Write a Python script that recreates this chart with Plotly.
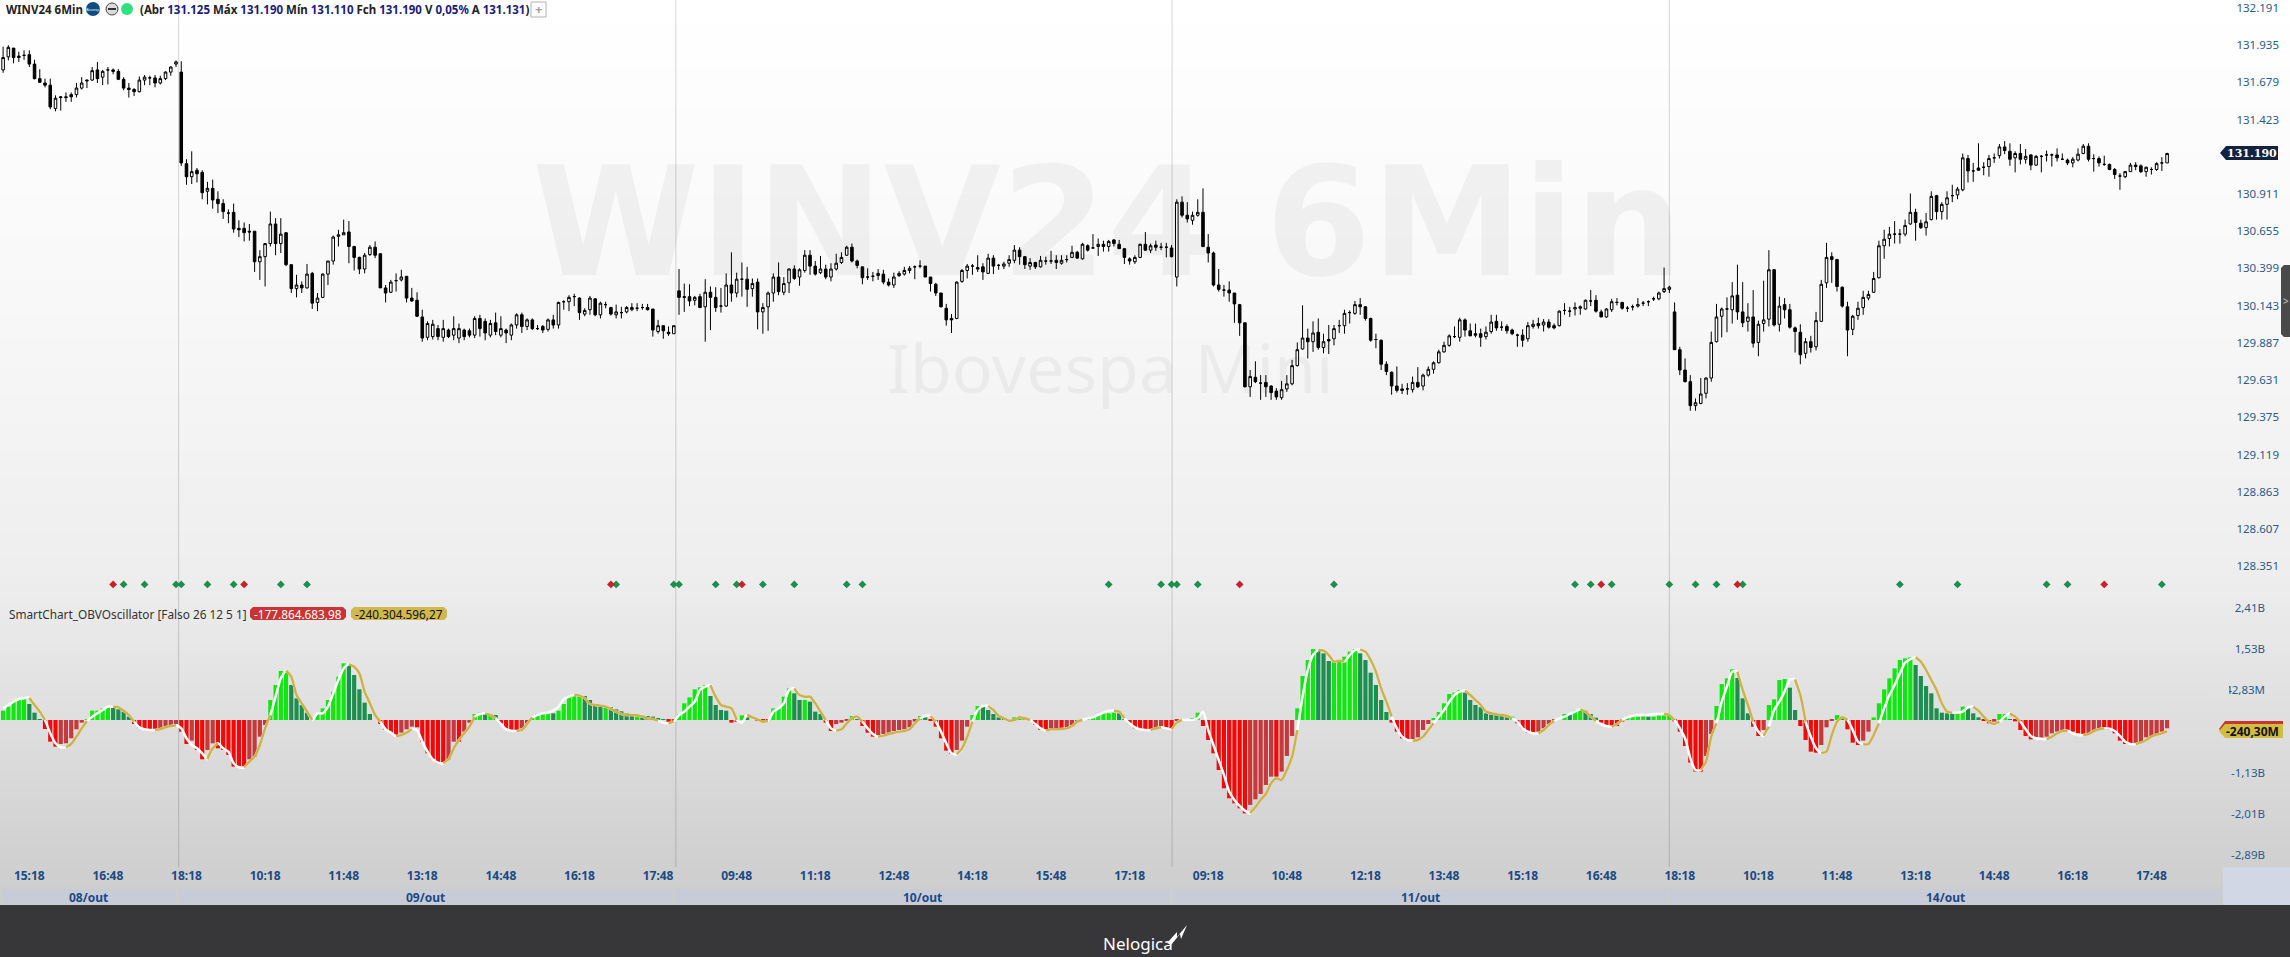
#!/usr/bin/env python3
import plotly.graph_objects as go

# Candles, one value per 6 minute bar
opens = [
    131765,131855,131915,131860,131865,131870,131805,131705,131675,131660,131500,131580,131580,131595,131595,131640,131695,131695,131765,131715,
    131765,131765,131755,131700,131640,131630,131615,131695,131710,131710,131675,131705,131750,131805,131750,
    131120,131030,131075,131060,130930,130950,130875,130845,130780,130785,130675,130675,130655,130655,130445,130480,130570,130705,130570,130645,
    130425,130260,130285,130265,130365,130165,130200,130360,130450,130620,130630,130650,130550,130475,130395,130495,130545,130500,130265,130235,
    130315,130320,130345,130195,130180,130065,129925,129930,129985,129925,129975,129940,129920,129975,129970,129940,130055,130035,129940,130025,
    129940,129975,129940,130010,130080,130000,130045,129985,130000,129980,130045,130010,130170,130170,130205,130195,130085,130115,130190,130080,
    130150,130130,130080,130095,130100,130115,130125,130130,130130,130120,129965,130005,129960,129950,
    130245,130205,130205,130180,130205,130135,130235,130200,130140,130140,130285,130230,130325,130325,130260,130305,130100,130135,130230,130340,
    130235,130300,130395,130340,130385,130490,130415,130370,130395,130340,130395,130440,130490,130545,130450,130410,130340,130345,130350,130360,
    130305,130285,130350,130360,130385,130410,130415,130415,130340,130290,130230,130125,130055,130055,130310,130385,130415,130405,130410,130365,
    130470,130420,130415,130435,130455,130525,130480,130415,130440,130410,130450,130450,130455,130435,130460,130475,130510,130465,130555,130540,
    130550,130565,130550,130595,130565,130535,130465,130445,130475,130565,130525,130560,130545,130545,130540,
    130340,130855,130765,130730,130765,130785,130545,130505,130285,130250,130250,130230,130150,130025,129585,129650,129610,129615,129590,129555,
    129510,129570,129605,129730,129845,129920,129895,129960,129855,129910,129915,130005,130005,
    130095,130090,130150,130135,130055,129910,129905,129740,129685,129590,129570,129570,129565,129615,129590,129665,129705,129750,129825,129870,
    129930,129925,130045,129970,129950,129950,129930,129965,130035,129995,130000,129975,129940,129940,129915,130000,130020,130010,130030,130005,
    130005,130110,130105,130120,130125,130120,130175,130180,130100,130065,130115,130165,130165,130125,130135,130140,130160,130170,130190,130190,
    130240,130255,
    130100,129840,129700,129620,129455,129470,129540,129645,129895,130070,130120,130115,130215,130100,130035,130065,129890,130020,130050,130390,
    130015,130150,130115,129990,129960,129815,129895,129860,130035,130300,130480,130460,130270,130135,129980,130075,130130,130195,130235,130335,
    130555,130605,130635,130635,130635,130705,130785,130710,130680,130735,130900,130790,130840,130900,130905,130940,131155,131070,131090,131095,
    131100,131160,131175,131235,131205,131160,131190,131150,131180,131110,131170,131180,131180,131180,131150,131145,131125,131145,131190,131240,
    131155,131155,131115,131115,131080,131035,131030,131065,131110,131105,131065,131080,131080,131125,131125,
]
highs = [
    131925,131935,131915,131890,131900,131900,131835,131770,131705,131705,131590,131585,131610,131610,131675,131715,131700,131785,131820,131765,
    131785,131775,131770,131715,131675,131640,131720,131730,131725,131730,131725,131755,131790,131830,131825,
    131150,131205,131090,131075,130995,131010,130930,130875,130805,130845,130730,130715,130705,130655,130525,130570,130790,130745,130745,130645,
    130425,130355,130310,130430,130375,130230,130365,130450,130625,130665,130735,130725,130555,130480,130505,130560,130585,130505,130285,130320,
    130365,130390,130345,130265,130235,130115,130035,130045,130010,130045,129985,130070,130020,129985,129985,130070,130080,130055,130045,130095,
    130070,129985,130020,130090,130095,130055,130055,130010,130010,130055,130080,130170,130180,130215,130225,130200,130125,130210,130195,130170,
    130170,130135,130150,130135,130140,130160,130160,130155,130155,130120,130045,130005,130000,130005,
    130395,130295,130290,130210,130225,130325,130275,130270,130265,130365,130510,130370,130440,130410,130330,130330,130160,130240,130365,130440,
    130340,130400,130420,130400,130525,130525,130450,130485,130425,130435,130500,130510,130555,130570,130460,130410,130400,130375,130395,130390,
    130330,130370,130380,130410,130415,130420,130455,130415,130340,130300,130230,130155,130085,130310,130395,130430,130430,130490,130435,130500,
    130490,130430,130445,130490,130560,130545,130485,130470,130445,130485,130480,130520,130490,130490,130490,130555,130520,130575,130565,130635,
    130605,130590,130595,130600,130595,130540,130475,130490,130570,130650,130570,130590,130575,130575,130560,
    130875,130895,130855,130790,130875,130950,130635,130515,130395,130285,130310,130230,130155,130025,129700,129760,129665,129665,129595,129575,
    129625,129665,129770,129890,130145,129985,130035,130055,129950,130010,130010,130045,130115,
    130110,130175,130195,130140,130060,129950,129910,129760,129690,129725,129605,129610,129655,129720,129675,129725,129760,129840,129895,129945,
    130000,130060,130055,130020,130020,129985,130000,130080,130080,130035,130015,129985,129950,129980,130030,130045,130060,130050,130050,130020,
    130110,130160,130135,130165,130145,130185,130250,130215,130115,130125,130190,130195,130170,130140,130150,130195,130175,130180,130205,130240,
    130405,130280,
    130165,129860,129780,129665,129505,129645,129650,129965,130155,130130,130200,130305,130425,130305,130160,130250,130040,130315,130525,130395,
    130205,130195,130155,130000,130015,129920,129935,130100,130320,130575,130510,130465,130275,130170,130080,130170,130245,130245,130375,130590,
    130665,130685,130725,130670,130735,130915,130810,130735,130780,130930,130905,130855,130930,130975,130960,131190,131180,131125,131260,131130,
    131180,131190,131255,131275,131260,131205,131255,131220,131185,131180,131180,131210,131190,131225,131190,131155,131165,131225,131255,131260,
    131185,131170,131175,131120,131090,131055,131070,131125,131130,131115,131100,131095,131130,131165,131195,
]
lows = [
    131745,131830,131810,131820,131835,131785,131700,131675,131645,131495,131480,131485,131545,131545,131575,131630,131640,131690,131675,131660,
    131665,131735,131695,131625,131575,131585,131610,131660,131660,131645,131665,131695,131725,131785,131105,
    130975,130980,130990,130875,130840,130810,130780,130740,130710,130645,130615,130585,130590,130375,130320,130275,130550,130490,130505,130415,
    130230,130200,130230,130260,130120,130105,130195,130285,130425,130550,130630,130435,130385,130360,130365,130485,130470,130265,130165,130230,
    130240,130310,130165,130170,130065,129895,129905,129910,129905,129895,129920,129905,129885,129905,129925,129920,129930,129905,129925,129940,
    129925,129885,129905,129985,129955,129975,129975,129975,129955,129965,129985,129985,130115,130105,130140,130045,130070,130080,130070,130055,
    130125,130075,130055,130055,130090,130105,130105,130115,130110,129930,129950,129915,129935,129950,
    130080,130100,130140,130145,130125,129895,129975,130100,130095,130135,130170,130200,130205,130135,130205,129980,129950,129970,130170,130215,
    130215,130230,130320,130280,130370,130355,130350,130360,130325,130310,130385,130430,130485,130440,130400,130290,130320,130310,130320,130290,
    130275,130265,130340,130350,130365,130325,130400,130340,130240,130210,130130,130005,129955,130050,130300,130330,130355,130375,130320,130360,
    130360,130390,130395,130410,130435,130425,130395,130390,130395,130405,130425,130430,130395,130425,130440,130470,130465,130460,130515,130535,
    130485,130515,130515,130550,130535,130430,130425,130430,130470,130520,130505,130520,130525,130475,130475,
    130275,130750,130715,130700,130755,130545,130440,130275,130240,130205,130170,130025,129935,129580,129515,129610,129495,129515,129495,129495,
    129495,129550,129595,129725,129840,129780,129825,129840,129815,129810,129870,129955,129950,
    130020,130080,130080,130040,129895,129850,129700,129665,129530,129545,129535,129530,129545,129575,129560,129655,129675,129745,129820,129860,
    129920,129895,129930,129935,129925,129860,129910,129950,129970,129970,129950,129940,129860,129860,129895,129985,129985,129965,129985,129980,
    130000,130080,130065,130075,130080,130115,130140,130095,130065,130060,130100,130145,130115,130100,130110,130130,130140,130140,130175,130180,
    130230,130230,
    129840,129665,129615,129420,129420,129465,129505,129620,129890,129925,129960,130020,130045,129995,129965,129855,129795,129965,130000,130000,
    129965,130055,129985,129820,129740,129780,129820,129835,130030,130265,130300,130240,130130,129795,129940,130045,130080,130180,130230,130330,
    130465,130550,130570,130570,130620,130700,130590,130670,130625,130730,130735,130735,130735,130855,130875,130930,130990,130995,131070,131040,
    131030,131125,131155,131185,131105,131060,131115,131120,131075,131105,131060,131135,131100,131135,131145,131110,131095,131135,131185,131135,
    131065,131100,131105,131075,131015,130940,131020,131065,131075,131055,131030,131045,131070,131070,131125,
]
closes = [
    131850,131920,131850,131850,131865,131805,131705,131680,131660,131510,131570,131575,131575,131580,131640,131675,131690,131760,131705,131755,
    131765,131755,131700,131640,131630,131615,131695,131715,131710,131675,131705,131750,131785,131820,131125,
    131030,131065,131050,130920,130950,130870,130845,130790,130780,130670,130665,130645,130650,130445,130480,130570,130705,130570,130635,130425,
    130260,130285,130265,130360,130160,130195,130360,130450,130615,130630,130645,130550,130475,130395,130490,130545,130490,130265,130230,130305,
    130315,130340,130195,130175,130070,129920,130020,130015,129930,129985,129930,129985,129985,129930,129940,130055,129985,129955,130020,129965,
    129985,129955,130010,130080,130000,130045,129985,129985,129975,130045,130010,130165,130170,130200,130205,130095,130110,130195,130080,130160,
    130150,130085,130100,130095,130130,130130,130125,130130,130115,129975,130005,129970,129950,130005,
    130200,130200,130175,130200,130130,130235,130200,130130,130140,130285,130230,130325,130325,130255,130295,130100,130130,130230,130340,130240,
    130295,130395,130330,130390,130490,130415,130360,130395,130340,130395,130435,130475,130545,130450,130420,130335,130340,130345,130365,130305,
    130285,130340,130365,130385,130400,130410,130415,130340,130295,130230,130135,130045,130045,130305,130385,130415,130415,130395,130375,130470,
    130415,130420,130430,130460,130525,130480,130425,130440,130410,130455,130450,130450,130440,130455,130460,130510,130470,130565,130525,130540,
    130565,130550,130585,130570,130535,130475,130450,130475,130565,130525,130555,130545,130545,130545,130480,
    130855,130765,130740,130765,130785,130550,130505,130285,130255,130250,130230,130155,130025,129585,129655,129620,129610,129585,129545,129515,
    129565,129605,129730,129840,129920,129895,129955,129855,129895,129900,129985,130005,130090,
    130095,130150,130135,130055,129905,129910,129740,129690,129590,129560,129560,129570,129615,129585,129665,129705,129750,129825,129870,129935,
    129930,130045,129975,129935,129940,129925,129960,130030,129990,129995,129970,129950,129940,129905,130005,130015,130005,130030,129995,129990,
    130105,130110,130105,130130,130135,130180,130175,130105,130065,130120,130170,130165,130125,130125,130135,130150,130160,130170,130190,130230,
    130260,130270,
    129840,129700,129620,129455,129475,129535,129645,129890,130065,130120,130120,130210,130100,130025,130065,129885,130015,130045,130390,130010,
    130140,130115,129995,129965,129805,129895,129855,130040,130290,130475,130460,130275,130140,129975,130070,130125,130200,130220,130330,130555,
    130600,130635,130635,130635,130695,130785,130715,130680,130720,130895,130790,130840,130885,130900,130945,131160,131070,131070,131075,131095,
    131155,131160,131235,131210,131150,131190,131150,131170,131110,131170,131170,131180,131180,131160,131150,131125,131150,131185,131240,131150,
    131155,131125,131115,131080,131045,131035,131065,131110,131100,131065,131095,131080,131120,131125,131190,
]

# OBV oscillator histogram and its signal line, in millions
osc_bars = [
    200,286,393,443,443,343,157,14,-193,-465,-572,-515,-500,-393,-200,-57,14,200,200,250,300,272,229,179,72,-86,-157,-200,-200,-200,
    -179,-143,-107,-86,-250,-515,-443,-643,-844,-643,-500,-608,-643,-751,-1001,-1001,-1001,-844,-786,-358,-107,
    429,751,1051,1058,751,465,322,157,0,129,250,429,608,930,1216,1201,965,658,372,129,0,-86,-215,-272,-343,-272,-200,-143,-157,-465,
    -715,-844,-930,-930,-844,-465,-465,-250,-57,129,157,129,129,107,-72,-179,-215,-229,-179,-72,43,129,143,157,143,200,343,515,515,536,
    515,429,322,300,300,272,229,186,143,107,107,93,86,72,36,14,-36,-21,129,
    358,486,658,701,751,515,322,215,200,-57,-43,100,57,0,-7,-14,-21,250,250,500,679,572,429,429,393,179,129,-57,-236,-86,-57,-14,86,21,
    -129,-272,-358,-336,-300,-272,-236,-215,-200,-157,-36,86,57,-14,-143,-393,-658,-729,-643,-443,-143,107,300,286,215,129,57,7,0,57,57,36,0,
    -107,-215,-229,-215,-200,-200,-157,-107,-43,14,29,57,107,143,143,157,143,14,-72,-179,-200,-215,-215,-200,-179,-179,-179,
    -21,7,14,29,157,-129,-429,-715,-1073,-1466,-1680,-1788,-1895,-2002,-1823,-1702,-1587,-1394,-1216,-1216,-1108,-772,-343,250,944,1287,1523,1502,1430,
    1266,1266,1266,1359,1466,1523,1430,1287,1015,751,429,172,-57,-250,-393,-443,-408,-372,-215,-86,43,172,358,558,586,644,586,429,322,272,143,122,114,86,57,72,
    -72,-179,-272,-286,-250,-179,-86,-21,0,129,114,200,215,200,129,50,-57,-107,-129,-129,-36,36,72,72,79,72,72,93,100,100,-29,-250,-558,-915,-1108,-1108,-772,-300,
    300,772,894,1087,901,465,143,-143,-343,-215,322,443,858,879,694,215,-129,-429,-679,-701,-536,-157,-21,107,36,-200,-486,-536,-443,-250,
    57,358,658,894,1108,1287,1323,1344,1180,944,729,572,250,157,143,129,129,286,250,143,57,-7,-72,-36,129,129,21,-29,-215,-343,
    -415,-400,-393,-358,-286,-250,-215,-215,-250,-286,-343,-300,-250,-200,-200,-215,-286,-443,-515,-515,-500,-472,-372,-358,-300,-250,-178,
]
osc_line = [
    250,322,393,450,472,479,322,179,0,-286,-500,-586,-586,-515,-358,-179,-21,72,143,215,286,286,272,200,107,-36,-157,-200,-215,-215,
    -193,-157,-129,-114,-179,-393,-536,-608,-715,-844,-608,-500,-608,-679,-930,-1015,-1015,-894,-786,-536,-179,107,500,894,1058,930,536,358,179,0,
    143,143,286,572,858,1108,1201,1144,1001,608,358,107,-36,-200,-272,-343,-322,-272,-200,-215,-465,-679,-844,-915,-930,-844,-608,-429,-286,-143,
    72,129,143,107,36,-86,-200,-229,-236,-215,-86,57,107,143,157,200,286,443,500,536,522,465,343,322,307,286,236,179,129,107,107,100,72,36,21,-14,-57,-72,-36,107,
    179,286,393,644,715,751,500,322,286,250,0,-57,107,57,14,-36,-21,179,250,358,644,679,536,500,500,358,179,0,-179,-229,
    -200,-72,36,72,-36,-179,-300,-358,-336,-300,-272,-250,-236,-200,-72,36,86,86,-36,-250,-500,-715,-736,-608,-358,-36,215,300,300,215,
    86,36,-14,0,57,36,0,-86,-179,-229,-200,-200,-193,-179,-129,-36,0,36,57,107,157,200,200,179,36,-72,-157,-200,-215,-215,-179,-157,-179,-200,
    -57,0,0,0,36,179,-215,-536,-858,-1180,-1537,-1716,-1845,-1945,-2002,-1873,-1716,-1587,-1359,-1251,-1287,-1073,-787,-215,500,1073,
    1394,1502,1487,1394,1251,1273,1258,1394,1502,1516,1466,1287,1037,679,393,72,-179,-358,-429,-443,-429,-358,-215,-72,72,215,393,536,608,629,
    536,429,322,179,143,122,107,86,36,-36,-179,-250,-286,-286,-215,-107,-21,36,72,129,179,229,179,72,-21,-93,-129,-143,-86,0,
    57,86,107,107,107,129,129,129,107,0,-179,-393,-822,-1073,-1073,-894,-358,
    -72,393,715,1037,1037,644,322,-36,-250,-343,-143,215,393,608,872,872,536,-36,-358,-608,-715,-679,-322,-36,57,0,-215,-465,-522,-515,-322,-72,
    250,536,751,1001,1230,1308,1344,1251,1073,858,644,358,179,157,157,179,272,286,200,72,-36,-86,-36,72,143,72,-36,-200,-343,-393,-400,-415,-358,-286,
    -236,-229,-286,-322,-322,-300,-236,-200,-179,-186,-236,-343,-465,-515,-515,-486,-429,-358,-315,-286,-240,
]

# Signal dots along the bottom of the price pane
green_signals = [23,27,33,34,39,44,53,58,117,128,129,136,140,145,151,161,164,211,221,223,224,228,254,300,303,307,318,323,327,332,362,373,390,394,412]
red_signals = [21,46,116,141,236,305,331,401]
signal_level = 128225

price_ticks = [132191,131935,131679,131423,130911,130655,130399,130143,129887,129631,129375,129119,128863,128607,128351]
osc_ticks = [2410,1530,642.83,-1130,-2010,-2890]
osc_tick_text = ['2,41B','1,53B','642,83M','-1,13B','-2,01B','-2,89B']

time_ticks = [5 + 15 * k for k in range(28)]
time_labels = ['15:18','16:48','18:18','10:18','11:48','13:18','14:48','16:18','17:48','09:48','11:18','12:48','14:18','15:48',
               '17:18','09:18','10:48','12:18','13:48','15:18','16:48','18:18','10:18','11:48','13:18','14:48','16:18','17:48']
session_breaks = [33.5, 128.4, 223.1, 318.0]
date_labels = ['08/out','09/out','10/out','11/out','14/out']

for name, arr in [('opens', opens), ('highs', highs), ('lows', lows), ('closes', closes), ('osc_bars', osc_bars), ('osc_line', osc_line)]:
    if len(arr) != 414:
        raise ValueError(f'{name} has {len(arr)} values')

W, H = 2290, 957
CHART_RIGHT = 2225
BLUE = '#1a4a85'


def fx(px):
    return px / W


def fy(px):
    return 1 - px / H


def rect(x0, y0, x1, y1, color, layer='below'):
    return dict(type='rect', xref='paper', yref='paper', x0=fx(x0), x1=fx(x1), y0=fy(y0), y1=fy(y1),
                fillcolor=color, line=dict(width=0), layer=layer)


def poly(points, color, layer='above'):
    path = 'M ' + ' L '.join(f'{fx(x)} {fy(y)}' for x, y in points) + ' Z'
    return dict(type='path', xref='paper', yref='paper', path=path, fillcolor=color, line=dict(width=0), layer=layer)


def pill(x0, y0, x1, y1, color):
    # rounded enough at this size
    c = 3
    return poly([(x0 + c, y0), (x1 - c, y0), (x1, y0 + c), (x1, y1 - c), (x1 - c, y1), (x0 + c, y1), (x0, y1 - c), (x0, y0 + c)], color)


def circle(cx, cy, r, color, line=None):
    return dict(type='circle', xref='paper', yref='paper', x0=fx(cx - r), x1=fx(cx + r), y0=fy(cy + r), y1=fy(cy - r),
                fillcolor=color, line=line or dict(width=0), layer='above')


def label(x, y, text, size=12, color='#222222', anchor='center', family='Noto Sans'):
    return dict(xref='paper', yref='paper', x=fx(x), y=fy(y), text=text, showarrow=False, xanchor=anchor, yanchor='middle',
                font=dict(size=size, color=color, family=family))


def shade(y):
    stops = [(0, 255), (300, 248), (570, 238), (860, 208), (905, 205)]
    for (y0, c0), (y1, c1) in zip(stops, stops[1:]):
        if y <= y1:
            c = round(c0 + (c1 - c0) * (y - y0) / (y1 - y0))
            return f'rgb({c},{c},{c})'
    return 'rgb(205,205,205)'


# Background gradient behind both panes
shapes = [rect(0, y, W, y + 3, shade(y)) for y in range(0, 905, 3)]

# Vertical session lines
for b in session_breaks:
    shapes.append(dict(type='line', xref='x', yref='paper', x0=b, x1=b, y0=fy(867), y1=1,
                       line=dict(color='rgba(0,0,0,0.16)', width=1), layer='below'))

# Date band, corner block and footer
for x0, x1 in [(1, 176), (179, 673), (675, 1170), (1172, 1667), (1669, 2222)]:
    shapes.append(rect(x0, 889, x1, 904, '#c8ccd6', layer='above'))
shapes.append(rect(2223, 867, W, 905, '#d1d7e5', layer='above'))
shapes.append(rect(0, 905, W, H, '#37373a', layer='above'))

# The pane edge cuts off the first digit of this tick in the original
shapes.append(rect(2212, 682, 2229, 698, shade(690), layer='above'))

# Price tags on the axis
shapes.append(poly([(2220, 153), (2226, 146), (2278, 146), (2278, 160), (2226, 160)], '#12233f'))
shapes.append(poly([(2219, 729), (2225, 721), (2283, 721), (2283, 730), (2225, 736)], '#c93434'))
shapes.append(poly([(2219, 731), (2225, 724), (2283, 724), (2283, 738), (2225, 738)], '#d2bd3e'))
# Pane handle on the right edge
shapes.append(pill(2281, 265, 2296, 337, '#4a4a4a'))
# Header icons
shapes.append(circle(93, 9, 7, '#0f4c81'))
shapes.append(circle(112, 9, 6, '#dcdcdc', dict(color='#444444', width=1)))
shapes.append(rect(108, 8, 116, 10, '#333333', layer='above'))
shapes.append(circle(127, 9, 6, '#30e07a'))
shapes.append(dict(type='rect', xref='paper', yref='paper', x0=fx(531), x1=fx(546), y0=fy(17), y1=fy(2),
                   fillcolor='rgba(255,255,255,0)', line=dict(color='#b0b0b0', width=1), layer='above'))
# Pills under the oscillator name
shapes.append(pill(250, 607, 346, 620, '#c93434'))
shapes.append(pill(351, 607, 447, 620, '#d0b84e'))
# Bolt of the footer logo
shapes.append(poly([(1167, 943), (1177, 932), (1177, 937), (1187, 925), (1181, 939), (1180, 934), (1171, 945)], '#ffffff'))

values = [('(Abr ', '#222222'), ('131.125 ', '#1c1c78'), ('Máx ', '#222222'), ('131.190 ', '#1c1c78'), ('Mín ', '#222222'),
          ('131.110 ', '#1c1c78'), ('Fch ', '#222222'), ('131.190 ', '#1c1c78'), ('V ', '#222222'), ('0,05% ', '#1c1c78'),
          ('A ', '#222222'), ('131.131', '#1c1c78'), (')', '#222222')]
value_text = ''.join(f'<span style="color:{c}"><b>{t}</b></span>' for t, c in values)

annotations = [
    label(1107, 222, '<b>WINV24 6Min</b>', size=152, color='rgba(0,0,0,0.045)', family='DejaVu Sans'),
    label(1110, 366, 'Ibovespa Mini', size=68, color='rgba(0,0,0,0.045)'),
    label(4, 9, '<b>WINV24 6Min</b>', size=11.5, anchor='left'),
    label(93, 9, 'Bovesp', size=4, color='#ffffff'),
    label(138, 9, value_text, size=11.5, anchor='left'),
    label(538.5, 9, '<b>+</b>', size=13, color='#a0a0a0'),
    label(7, 614, 'SmartChart_OBVOscillator [Falso 26 12 5 1]', size=11.8, color='#333333', anchor='left'),
    label(298, 614, '-177.864.683,98', size=11.8, color='#ffffff'),
    label(399, 614, '-240.304.596,27', size=11.8, color='#111111'),
    label(2252, 153, '<b>131.190</b>', size=11, color='#ffffff', family='DejaVu Serif'),
    label(2252, 731, '<b>-240,30M</b>', size=12, color='#111111'),
    label(2285.5, 301, '>', size=10, color='#cccccc'),
    label(1138, 943, 'Nelogica', size=17, color='#ffffff'),
]
for x, text in zip([88, 425, 922, 1420, 1945], date_labels):
    annotations.append(label(x, 897, f'<b>{text}</b>', size=12, color=BLUE))

idx = list(range(414))


def bar_color(i):
    prev = osc_bars[i - 1] if i else 0
    if osc_bars[i] >= 0:
        return '#0ee80e' if osc_bars[i] >= prev else '#1a8f4e'
    return '#f20808' if osc_bars[i] <= prev else '#c5383c'


# Gold where the line moves back toward zero
gold_y = [None] * 414
for i in range(1, 414):
    if abs(osc_line[i]) < abs(osc_line[i - 1]):
        gold_y[i - 1] = osc_line[i - 1]
        gold_y[i] = osc_line[i]

fig = go.Figure()

fig.add_trace(go.Candlestick(
    x=idx, open=opens, high=highs, low=lows, close=closes, xaxis='x', yaxis='y',
    increasing=dict(fillcolor='#ffffff', line=dict(color='#000000', width=1)),
    decreasing=dict(fillcolor='#000000', line=dict(color='#000000', width=1)),
    whiskerwidth=0, showlegend=False,
))
fig.add_trace(go.Scatter(x=green_signals, y=[signal_level] * len(green_signals), mode='markers', xaxis='x', yaxis='y',
                         marker=dict(symbol='diamond', size=6, color='#1a8f4e'), showlegend=False))
fig.add_trace(go.Scatter(x=red_signals, y=[signal_level] * len(red_signals), mode='markers', xaxis='x', yaxis='y',
                         marker=dict(symbol='diamond', size=6, color='#c8202c'), showlegend=False))
fig.add_trace(go.Bar(x=idx, y=osc_bars, xaxis='x', yaxis='y2', width=0.8,
                     marker=dict(color=[bar_color(i) for i in idx], line=dict(width=0)), showlegend=False))
fig.add_trace(go.Scatter(x=idx, y=osc_line, mode='lines', xaxis='x', yaxis='y2',
                         line=dict(color='#ffffff', width=2.5, shape='spline', smoothing=0.6), showlegend=False))
fig.add_trace(go.Scatter(x=idx, y=gold_y, mode='lines', xaxis='x', yaxis='y2', connectgaps=False,
                         line=dict(color='#cdb24a', width=2.5, shape='spline', smoothing=0.6), showlegend=False))

axis_font = dict(size=11.5, color='#2b5a8c', family='Noto Sans')
fig.update_layout(
    width=W, height=H, autosize=False,
    margin=dict(l=0, r=0, t=0, b=0, pad=0),
    paper_bgcolor='#ffffff', plot_bgcolor='rgba(0,0,0,0)',
    hovermode='closest', barmode='overlay', showlegend=False,
    xaxis=dict(domain=[0, fx(CHART_RIGHT)], range=[-0.592, 424.05], anchor='y2', showgrid=False, zeroline=False,
               rangeslider=dict(visible=False), tickmode='array', tickvals=time_ticks,
               ticktext=[f'<b>{t}</b>' for t in time_labels], tickfont=dict(size=12, color=BLUE, family='Noto Sans'), ticks=''),
    yaxis=dict(domain=[fy(594), 1], range=[128159, 132246], anchor='free', position=fx(2279), side='left', showgrid=False,
               zeroline=False, tickmode='array', tickvals=price_ticks,
               ticktext=[f'{v // 1000}.{v % 1000:03d}' for v in price_ticks], tickfont=axis_font, ticks=''),
    yaxis2=dict(domain=[fy(867), fy(594)], range=[-3155, 2704], anchor='free', position=fx(2265), side='left', showgrid=False,
                zeroline=False, tickmode='array', tickvals=osc_ticks, ticktext=osc_tick_text, tickfont=axis_font, ticks=''),
    shapes=shapes,
    annotations=annotations,
)

fig.write_html("out.html", config=dict(displayModeBar=False),
               post_script="document.body.style.margin='0';document.body.style.overflow='hidden';")
